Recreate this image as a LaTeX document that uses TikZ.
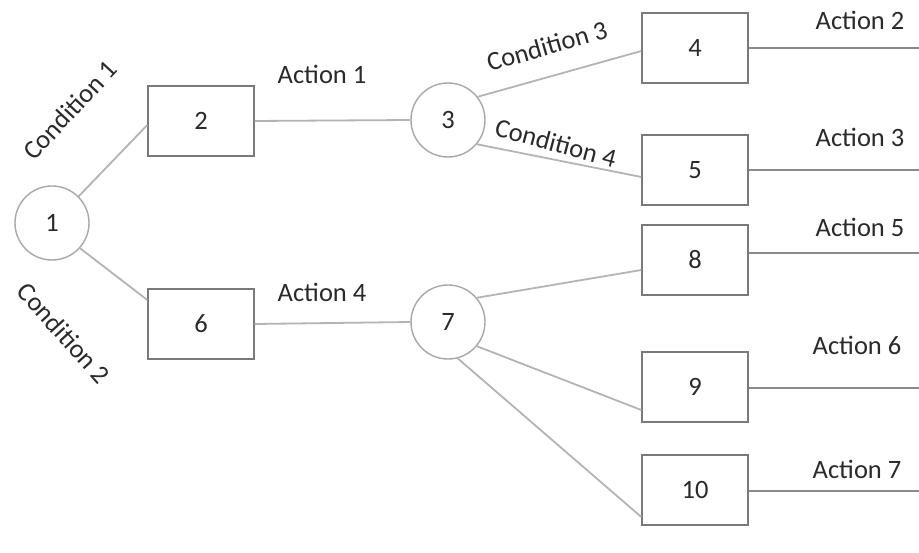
\documentclass[tikz,border=0pt]{standalone}
\usepackage{fontspec}
\setmainfont{Carlito}
\usetikzlibrary{calc}
\definecolor{txt}{HTML}{2A2A2A}
\definecolor{boxline}{HTML}{7A7A7A}
\definecolor{circline}{HTML}{A8A8A8}
\definecolor{conn}{HTML}{B4B4B4}
\definecolor{actline}{HTML}{8A8A8A}
\begin{document}
\begin{tikzpicture}[x=1pt,y=-1pt,
  every node/.style={font=\fontsize{26.5}{30}\selectfont, text=txt},
  box/.style={draw=boxline, line width=1.4pt, fill=white, minimum width=106pt, minimum height=70pt, inner sep=0pt},
  circ/.style={circle, draw=circline, line width=1.4pt, fill=white, minimum size=74pt, inner sep=0pt},
  connector/.style={draw=conn, line width=1.8pt},
  actconn/.style={draw=actline, line width=1.4pt},
  lab/.style={inner sep=0pt}
]
\useasboundingbox[fill=white] (0,0) rectangle (919,553);

% nodes
\node[circ] (c1) at (52,223) {1};
\node[box] (b2) at (201,121) {2};
\node[box] (b6) at (201,324) {6};
\node[circ] (c3) at (448,120) {3};
\node[circ] (c7) at (448,322) {7};
\node[box] (b4) at (695,48) {4};
\node[box] (b5) at (695,170) {5};
\node[box] (b8) at (695,260) {8};
\node[box] (b9) at (695,387) {9};
\node[box] (b10) at (695,490) {10};

% connectors
\draw[connector] (c1.45) -- ($(b2.west)+(0,4)$);
\draw[connector] (c1.-42) -- ($(b6.west)+(0,-24)$);
\draw[connector] (b2.east) -- (c3.west);
\draw[connector] (b6.east) -- (c7.west);
\draw[connector] (c3.38) -- ($(b4.west)+(0,3)$);
\draw[connector] (c3.-40) -- ($(b5.west)+(0,7)$);
\draw[connector] (c7.40) -- ($(b8.west)+(0,10)$);
\draw[connector] (c7.-40) -- ($(b9.west)+(0,23)$);
\draw[connector] (c7.-75) -- ($(b10.west)+(0,27)$);

% action lines
\coordinate (e4) at (919,48);
\coordinate (e5) at (919,170);
\coordinate (e8) at (919,253);
\coordinate (e9) at (919,388);
\coordinate (e10) at (919,491);
\draw[actconn] (b4.east) -- (e4);
\draw[actconn] (b5.east) -- (e5);
\draw[actconn] ($(b8.east)+(0,-7)$) -- (e8);
\draw[actconn] ($(b9.east)+(0,1)$) -- (e9);
\draw[actconn] ($(b10.east)+(0,1)$) -- (e10);

% labels
\node[lab, rotate=47] (l1) at (70,110) {Condition 1};
\node[lab, rotate=-48] (l2) at (64,333) {Condition 2};
\node[lab, rotate=16] (l3) at (547,46) {Condition 3};
\node[lab, rotate=-15] (l4) at (556,143) {Condition 4};
\node[lab] (a1) at (322,74) {Action 1};
\node[lab] (a4) at (322,292) {Action 4};
\node[lab] (a2) at (860,20) {Action 2};
\node[lab] (a3) at (860,137) {Action 3};
\node[lab] (a5) at (860,227) {Action 5};
\node[lab] (a6) at (857,345) {Action 6};
\node[lab] (a7) at (857,469) {Action 7};
\end{tikzpicture}
\end{document}
